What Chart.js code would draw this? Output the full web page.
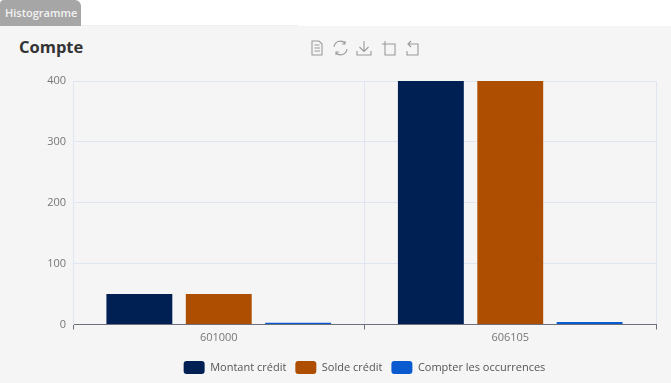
<!DOCTYPE html>
<html lang="fr"><head><meta charset="utf-8">
<style>
html,body{margin:0;padding:0;width:671px;height:383px;overflow:hidden;background:#fff;font-family:"Open Sans","Noto Sans",sans-serif}
#panel{position:absolute;left:0;top:26px;width:671px;height:357px;background:#f5f5f5}
#rule{position:absolute;left:81px;top:25px;width:217px;height:1px;background:#f0f0f0}
#tab{position:absolute;left:0;top:0;width:81px;height:26px;background:#a6a6a6;border-radius:4px 6px 0 0;color:#f2f2f2;font-size:11px;line-height:26px;text-indent:5px;font-weight:600}
#title{position:absolute;left:19px;top:36px;font-size:16.5px;line-height:22px;font-weight:700;color:#333}
#icons{position:absolute;left:309px;top:39px}
canvas{position:absolute;left:0;top:0}
</style></head><body>
<div id="panel"></div><div id="rule"></div>
<div id="tab">Histogramme</div>
<div id="title">Compte</div>
<canvas id="c" width="671" height="383"></canvas>
<svg id="icons" width="140" height="18" viewBox="0 0 140 18" fill="none" stroke="#9a9a9a" stroke-width="1.1">
<path d="M3 2h7l3 3v11H3z M5.5 6h5 M5.5 9h5.5 M5.5 12h5.5"/>
<path d="M25 8a6.5 6.5 0 0 1 11-4 M38 10a6.5 6.5 0 0 1-11 4 M36 2v3h-3 M27 16v-3h3"/>
<path d="M55 2v10 M50.5 8l4.5 4.5 4.5-4.5 M48 12v4h14v-4"/>
<path d="M76 2v3 M73 5h13v11H76V5"/>
<path d="M100 5h9v11H98v-4 M102 2l-3 3 3 3"/>
</svg>
<script src="https://cdn.jsdelivr.net/npm/chart.js@4"></script>
<script>
const categories = ["601000", "606105"];
const montantCredit = [50, 400];
const soldeCredit = [50, 400];
const compterOccurrences = [3, 4];
const yTicks = [0, 100, 200, 300, 400];
const grid = "#e0e6f1", axis = "#6e7079", font = '"Open Sans","Noto Sans",sans-serif';
new Chart(document.getElementById("c"), {
  type: "bar",
  data: {
    labels: categories,
    datasets: [
      {label: "Montant crédit", data: montantCredit, backgroundColor: "#001f52"},
      {label: "Solde crédit", data: soldeCredit, backgroundColor: "#ad4e00"},
      {label: "Compter les occurrences", data: compterOccurrences, backgroundColor: "#0a5ad0"}
    ]
  },
  options: {
    responsive: false, animation: false,
    datasets: {bar: {categoryPercentage: 0.817, barPercentage: 0.83}},
    layout: {padding: {top: 81, right: 15, bottom: -1, left: 0}},
    plugins: {
      tooltip: {enabled: false},
      legend: {
        position: "bottom", fullSize: false,
        labels: {boxWidth: 21, boxHeight: 13, useBorderRadius: true, borderRadius: 3, padding: 9,
          color: "#555", font: {family: font, size: 11}}
      }
    },
    scales: {
      x: {
        grid: {color: grid, tickColor: axis, tickLength: 5},
        border: {color: axis},
        ticks: {color: "#777", font: {family: font, size: 11}, padding: 2, maxRotation: 0},
        afterFit(s) { s.height = 27.5; }
      },
      y: {
        min: 0, max: 400,
        afterBuildTicks(s) { s.ticks = yTicks.map(v => ({value: v})); },
        grid: {color: grid, drawTicks: false},
        border: {color: grid},
        ticks: {color: "#777", font: {family: font, size: 11}, padding: 7},
        afterFit(s) { s.width = 73; }
      }
    }
  }
});
</script>
</body></html>
